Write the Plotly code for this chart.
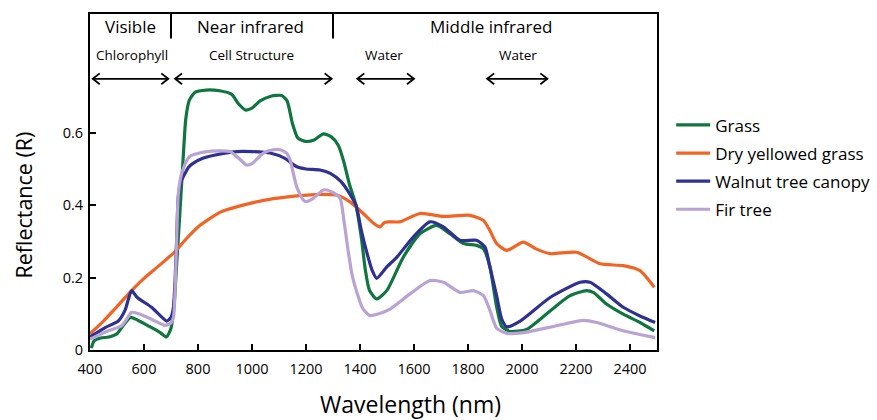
import plotly.graph_objects as go

# ---------------- data ----------------
grass_wl = [405, 415, 440, 470, 500, 525, 550, 575, 620, 660, 683, 700, 712, 722, 733, 745, 755, 768,
            790, 830, 880, 925, 950, 975, 1000, 1030, 1070, 1110, 1130, 1150, 1170, 1200, 1230, 1265,
            1295, 1320, 1340, 1360, 1385, 1405, 1420, 1435, 1462, 1499, 1560, 1622, 1684, 1733, 1783,
            1832, 1857, 1881, 1906, 1925, 1956, 2017, 2104, 2178, 2239, 2264, 2313, 2375, 2437, 2490]
grass_r = [0.005, 0.025, 0.033, 0.036, 0.045, 0.07, 0.09, 0.083, 0.065, 0.048, 0.036, 0.06, 0.13, 0.25,
           0.38, 0.53, 0.64, 0.69, 0.712, 0.718, 0.716, 0.706, 0.68, 0.663, 0.668, 0.688, 0.701, 0.703,
           0.688, 0.625, 0.585, 0.576, 0.58, 0.597, 0.588, 0.565, 0.52, 0.46, 0.40, 0.31, 0.22, 0.165,
           0.141, 0.164, 0.256, 0.321, 0.344, 0.321, 0.294, 0.289, 0.28, 0.23, 0.12, 0.065, 0.051,
           0.057, 0.108, 0.15, 0.164, 0.159, 0.127, 0.099, 0.076, 0.053]

dry_wl = [400, 450, 500, 554, 600, 659, 715, 760, 800, 881, 956, 1079, 1202, 1260, 1314, 1363, 1412,
          1450, 1474, 1490, 1505, 1548, 1622, 1709, 1807, 1857, 1881, 1906, 1943, 2005, 2050, 2104,
          2203, 2289, 2375, 2437, 2490]
dry_r = [0.045, 0.08, 0.12, 0.164, 0.198, 0.235, 0.272, 0.31, 0.34, 0.38, 0.398, 0.418, 0.428, 0.43,
         0.428, 0.409, 0.377, 0.35, 0.34, 0.352, 0.354, 0.354, 0.377, 0.369, 0.372, 0.358, 0.33,
         0.294, 0.275, 0.298, 0.28, 0.266, 0.27, 0.238, 0.233, 0.219, 0.173]

walnut_wl = [400, 456, 505, 530, 554, 575, 628, 684, 700, 709, 715, 722, 727, 737, 746, 765, 783, 820,
             860, 943, 1000, 1067, 1120, 1166, 1200, 1252, 1290, 1330, 1363, 1385, 1405, 1425, 1445,
             1462, 1500, 1536, 1597, 1659, 1709, 1770, 1832, 1863, 1881, 1906, 1925, 1943, 1993, 2104,
             2215, 2252, 2313, 2375, 2437, 2493]
walnut_r = [0.036, 0.062, 0.08, 0.11, 0.164, 0.145, 0.118, 0.08, 0.09, 0.118, 0.19, 0.33, 0.423,
            0.465, 0.479, 0.505, 0.516, 0.53, 0.538, 0.548, 0.548, 0.544, 0.53, 0.506, 0.50, 0.497,
            0.488, 0.465, 0.43, 0.40, 0.33, 0.27, 0.22, 0.198, 0.23, 0.256, 0.312, 0.354, 0.34, 0.303,
            0.303, 0.284, 0.23, 0.15, 0.085, 0.064, 0.08, 0.145, 0.187, 0.187, 0.155, 0.118, 0.094,
            0.076]

fir_wl = [400, 468, 517, 540, 554, 580, 628, 678, 700, 709, 715, 722, 727, 737, 750, 770, 832, 880,
          919, 950, 980, 1000, 1042, 1079, 1104, 1128, 1141, 1153, 1166, 1190, 1202, 1227, 1264, 1277,
          1300, 1326, 1340, 1355, 1370, 1388, 1410, 1437, 1470, 1511, 1585, 1659, 1709, 1770, 1820,
          1857, 1881, 1894, 1906, 1943, 2005, 2128, 2227, 2277, 2375, 2493]
fir_r = [0.03, 0.053, 0.067, 0.09, 0.104, 0.1, 0.085, 0.068, 0.075, 0.09, 0.16, 0.33, 0.43, 0.48,
         0.51, 0.535, 0.548, 0.55, 0.548, 0.53, 0.511, 0.515, 0.544, 0.553, 0.553, 0.544, 0.525,
         0.488, 0.45, 0.414, 0.41, 0.419, 0.442, 0.442, 0.435, 0.42, 0.36, 0.28, 0.21, 0.16, 0.115,
         0.095, 0.10, 0.113, 0.155, 0.192, 0.187, 0.159, 0.164, 0.15, 0.11, 0.081, 0.06, 0.046, 0.048,
         0.067, 0.082, 0.076, 0.053, 0.034]

series_names = ["Grass", "Dry yellowed grass", "Walnut tree canopy", "Fir tree"]
series_colors = ["#10763f", "#f26424", "#2e3192", "#b9a2d4"]

x_ticks = [400, 600, 800, 1000, 1200, 1400, 1600, 1800, 2000, 2200, 2400]
y_ticks = [0, 0.2, 0.4, 0.6]
y_tick_labels = ["0", "0.2", "0.4", "0.6"]

# header bands (region names and their boundaries)
region_labels = ["Visible", "Near infrared", "Middle infrared"]
region_centers = [551, 996, 1884]
region_bounds = [700, 1300]
feature_labels = ["Chlorophyll", "Cell Structure", "Water", "Water"]
feature_centers = [554, 999, 1488, 1985]
feature_spans = [(410, 690), (715, 1295), (1390, 1600), (1871, 2094)]

# ---------------- figure ----------------
fig = go.Figure()
all_series = [(grass_wl, grass_r), (dry_wl, dry_r), (walnut_wl, walnut_r), (fir_wl, fir_r)]
for i, ((wx, wy), name, col) in enumerate(zip(all_series, series_names, series_colors)):
    fig.add_trace(go.Scatter(
        x=wx, y=wy, mode="lines", name=name, legendgroup=f"g{i}",
        line=dict(color=col, width=3.2, shape="spline", smoothing=0.6),
    ))

FONT = "Open Sans, Noto Sans, sans-serif"
Y_TOP = 0.928
shapes = []
annotations = []

# separators in header row
for b in region_bounds:
    shapes.append(dict(type="line", xref="x", yref="y", x0=b, x1=b, y0=0.860, y1=Y_TOP,
                       line=dict(color="black", width=2)))
for lab, cx in zip(region_labels, region_centers):
    annotations.append(dict(x=cx, y=0.893, xref="x", yref="y", text=lab, showarrow=False,
                            font=dict(size=17, color="black", family=FONT)))
for lab, cx in zip(feature_labels, feature_centers):
    annotations.append(dict(x=cx, y=0.815, xref="x", yref="y", text=lab, showarrow=False,
                            font=dict(size=13.5, color="black", family=FONT)))

# double-headed arrows
AY = 0.749
HX = 26   # head length in nm
HY = 0.015
for (a, b) in feature_spans:
    shapes.append(dict(type="line", xref="x", yref="y", x0=a, x1=b, y0=AY, y1=AY,
                       line=dict(color="black", width=1.8)))
    shapes.append(dict(type="path", xref="x", yref="y",
                       path=f"M {a+HX},{AY+HY} L {a},{AY} L {a+HX},{AY-HY}",
                       line=dict(color="black", width=1.8)))
    shapes.append(dict(type="path", xref="x", yref="y",
                       path=f"M {b-HX},{AY+HY} L {b},{AY} L {b-HX},{AY-HY}",
                       line=dict(color="black", width=1.8)))

# axis titles as annotations (placed like the reference)
annotations.append(dict(x=0.565, y=-0.162, xref="paper", yref="paper", text="Wavelength (nm)",
                        showarrow=False, xanchor="center", yanchor="middle",
                        font=dict(size=23, color="black", family=FONT)))
annotations.append(dict(x=-0.118, y=0.43, xref="paper", yref="paper", text="Reflectance (R)",
                        showarrow=False, textangle=-90, xanchor="center", yanchor="middle",
                        font=dict(size=21.5, color="black", family=FONT)))

fig.update_layout(
    width=877, height=420,
    margin=dict(l=90, r=220, t=14, b=70, autoexpand=False),
    paper_bgcolor="white", plot_bgcolor="white",
    font=dict(family=FONT, color="black"),
    shapes=shapes, annotations=annotations,
    showlegend=True,
    legend=dict(x=1.025, y=0.722, xanchor="left", yanchor="top", traceorder="grouped",
                tracegroupgap=3, itemwidth=34,
                font=dict(size=17, color="black", family=FONT),
                bgcolor="rgba(0,0,0,0)"),
)
fig.update_xaxes(range=[400, 2500], tickvals=x_ticks, ticks="inside", ticklen=6, tickwidth=1.5,
                 tickcolor="black", showline=True, linecolor="black", linewidth=2, mirror=True,
                 showgrid=False, zeroline=False, ticklabelstandoff=5,
                 tickfont=dict(size=14.5, color="black", family=FONT))
fig.update_yaxes(range=[0, Y_TOP], tickvals=y_ticks, ticktext=y_tick_labels, ticks="inside",
                 ticklen=6, tickwidth=1.5, tickcolor="black", showline=True, linecolor="black",
                 linewidth=2, mirror=True, showgrid=False, zeroline=False, ticklabelstandoff=2,
                 tickfont=dict(size=14.5, color="black", family=FONT))

fig.write_html("out.html")
